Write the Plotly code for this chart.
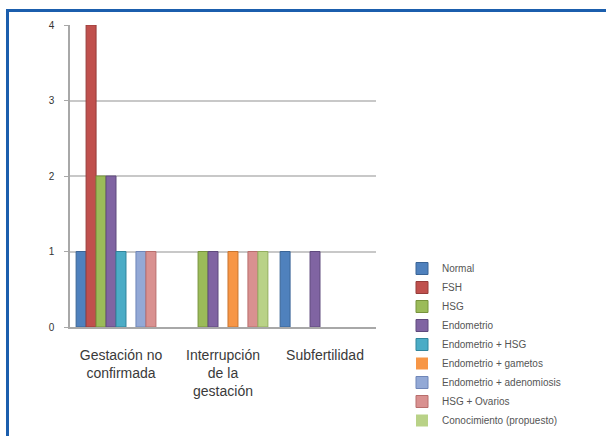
import plotly.graph_objects as go

# Categories on the x axis
categories = ["Gestación no confirmada", "Interrupción de la gestación", "Subfertilidad"]
category_labels = ["Gestación no<br>confirmada", "Interrupción<br>de la<br>gestación", "Subfertilidad"]

# Series names and their counts per category
series_names = [
    "Normal",
    "FSH",
    "HSG",
    "Endometrio",
    "Endometrio + HSG",
    "Endometrio + gametos",
    "Endometrio + adenomiosis",
    "HSG + Ovarios",
    "Conocimiento (propuesto)",
]
normal = [1, 0, 1]
fsh = [4, 0, 0]
hsg = [2, 1, 0]
endometrio = [2, 1, 1]
endometrio_hsg = [1, 0, 0]
endometrio_gametos = [0, 1, 0]
endometrio_adenomiosis = [1, 0, 0]
hsg_ovarios = [1, 1, 0]
conocimiento = [0, 1, 0]
series_values = [normal, fsh, hsg, endometrio, endometrio_hsg,
                 endometrio_gametos, endometrio_adenomiosis, hsg_ovarios, conocimiento]

colors = ["#4F81BD", "#C0504D", "#9BBB59", "#8064A2", "#4BACC6",
          "#F79646", "#93A9D6", "#D99190", "#B9D287"]
edges = ["#3A6496", "#963C3A", "#77933C", "#5F4A7D", "#31859C",
         "#C8742E", "#6F86B8", "#B86E6C", "#93AE5E"]

fig = go.Figure()
for name, vals, col, edge in zip(series_names, series_values, colors, edges):
    fig.add_trace(go.Bar(
        name=name,
        x=categories,
        y=vals,
        marker=dict(
            color=col,
            # no outline on empty bars so they leave no stub on the axis
            line=dict(color=edge, width=[1 if v > 0 else 0 for v in vals]),
        ),
    ))

W, H = 606, 436
L, R, T, B = 70, 230, 25, 109
pw, ph = W - L - R, H - T - B

def px_x(p):
    return (p - L) / pw

def px_y(p):
    return (H - B - p) / ph

fig.update_layout(
    width=W,
    height=H,
    margin=dict(l=L, r=R, t=T, b=B, pad=0, autoexpand=False),
    paper_bgcolor="white",
    plot_bgcolor="white",
    barmode="group",
    bargap=0.12,
    bargroupgap=0,
    font=dict(family="Liberation Sans, Arial, sans-serif", color="#3a3a3a"),
    xaxis=dict(
        type="category",
        tickmode="array",
        tickvals=categories,
        ticktext=category_labels,
        tickfont=dict(size=14, color="#3a3a3a"),
        showline=True,
        linecolor="#a8a8a8",
        linewidth=1.5,
        showgrid=False,
        ticks="",
        ticklabelstandoff=14,
    ),
    yaxis=dict(
        range=[0, 4],
        tickvals=[0, 1, 2, 3, 4],
        tickfont=dict(size=10, color="#333333"),
        showline=True,
        linecolor="#a8a8a8",
        linewidth=1.5,
        showgrid=True,
        gridcolor="#c8c8c8",
        gridwidth=1.5,
        ticks="outside",
        ticklen=4,
        tickcolor="#a8a8a8",
        ticklabelstandoff=8,
        zeroline=False,
    ),
    legend=dict(
        xref="container",
        yref="container",
        x=402 / W,
        y=1 - 254 / H,
        xanchor="left",
        yanchor="top",
        font=dict(size=10, color="#555555"),
        bgcolor="rgba(0,0,0,0)",
        itemwidth=30,
        tracegroupgap=0,
    ),
    shapes=[
        dict(
            type="rect",
            xref="paper",
            yref="paper",
            x0=px_x(7.5),
            x1=px_x(W + 20),
            y0=px_y(H + 20),
            y1=px_y(10.5),
            line=dict(color="#1B5EAD", width=3),
            fillcolor="rgba(0,0,0,0)",
            layer="above",
        )
    ],
)

fig.write_html("out.html")
